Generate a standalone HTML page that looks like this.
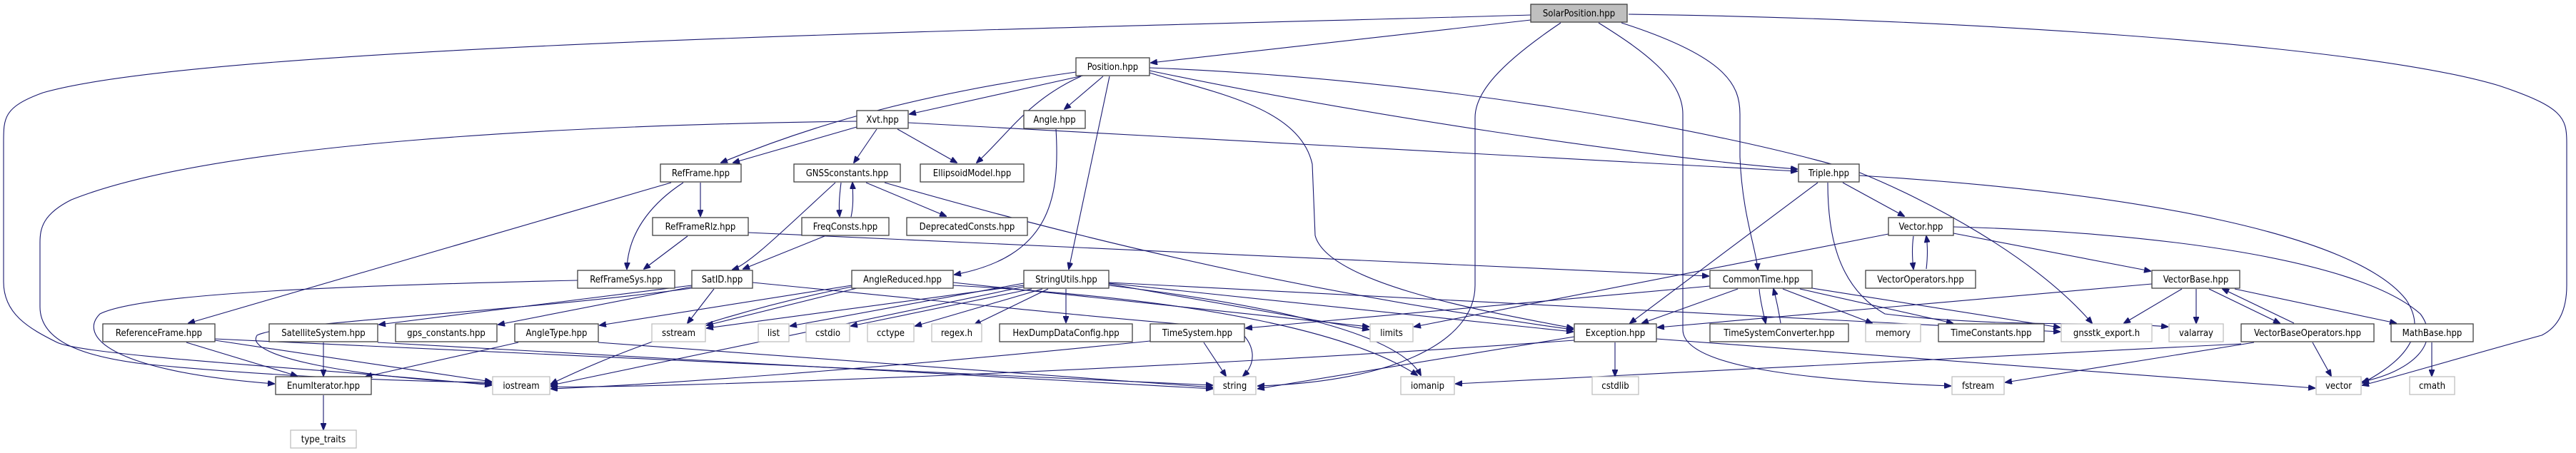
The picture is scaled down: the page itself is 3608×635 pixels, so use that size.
<!DOCTYPE html>
<html><head><meta charset="utf-8"><style>
html,body{margin:0;padding:0;background:#fff;}
svg{display:block;}
text{font-family:"DejaVu Sans Condensed","DejaVu Sans","Liberation Sans",sans-serif;font-size:13px;fill:#000;}
.n rect{fill:#fff;stroke:#404040;stroke-width:1.3;}
.g rect{fill:#fff;stroke:#bfbfbf;stroke-width:1.3;}
path{fill:none;stroke:#191970;stroke-width:1.1;}
</style></head><body>
<svg width="3608" height="635" viewBox="0 0 3608 635" xmlns="http://www.w3.org/2000/svg">
<defs><marker id="a" markerWidth="10" markerHeight="8" refX="9" refY="4" orient="auto" markerUnits="userSpaceOnUse"><polygon points="0,0 10,4 0,8" fill="#191970" stroke="#191970"/></marker></defs>
<g marker-end="url(#a)">
<path d="M2144,28 L1612,88"/>
<path d="M2144,21 C1500,40 300,60 60,130 C5,150 5,165 5,200 L5,395 C5,440 40,460 80,480 C120,500 500,520 688,540"/>
<path d="M2186,32 C2100,90 2066,130 2066,165 L2066,400 C2066,480 1950,535 1762,541"/>
<path d="M2239,32 C2300,70 2357,110 2357,160 L2357,462 C2357,510 2500,532 2732,541"/>
<path d="M2271,32 C2420,80 2437,120 2437,160 L2437,220 C2440,300 2460,350 2462,378"/>
<path d="M2281,20 C2700,25 3300,60 3500,120 C3590,150 3595,165 3595,200 L3595,400 C3595,440 3580,460 3560,470 C3450,500 3350,530 3309,540"/>
<path d="M1507,101 C1300,130 1150,170 1010,228"/>
<path d="M1517,106 L1274,160"/>
<path d="M1514,107 C1440,140 1410,190 1368,228"/>
<path d="M1545,107 L1491,153"/>
<path d="M1554,107 L1497,377"/>
<path d="M1610,99 C1900,160 2300,220 2517,237"/>
<path d="M1610,102 C1700,130 1820,150 1838,230 L1842,330 C1860,400 2100,440 2203,460"/>
<path d="M1610,95 C2000,110 2400,180 2600,240 C2700,280 2850,360 2930,453"/>
<path d="M1200,178 L1027,228"/>
<path d="M1228,181 L1196,228"/>
<path d="M1257,181 L1340,228"/>
<path d="M1272,172 L2517,240"/>
<path d="M1200,170 C800,175 300,200 100,280 C60,300 56,320 56,340 L56,430 C56,480 120,500 200,510 C400,530 600,535 688,536"/>
<path d="M1479,181 C1485,280 1470,360 1337,385"/>
<path d="M981,256 L981,303"/>
<path d="M957,256 C920,280 880,320 878,377"/>
<path d="M940,256 L264,453"/>
<path d="M963,331 L902,377"/>
<path d="M1048,326 L2393,387"/>
<path d="M1178,256 C1175,280 1175,290 1176,303"/>
<path d="M1192,304 C1195,290 1195,280 1194,256"/>
<path d="M1213,256 L1325,303"/>
<path d="M1170,256 C1100,320 1050,370 1026,378"/>
<path d="M1239,256 C1600,360 1900,420 2203,462"/>
<path d="M1155,331 L1041,377"/>
<path d="M809,393 C500,400 200,410 140,440 C110,470 150,520 384,538"/>
<path d="M261,480 L416,527"/>
<path d="M301,477 L688,535"/>
<path d="M301,475 L1698,540"/>
<path d="M1000,405 L963,453"/>
<path d="M969,400 L531,455"/>
<path d="M969,402 L698,455"/>
<path d="M969,404 C700,440 400,450 360,470 C340,500 500,530 688,538"/>
<path d="M1054,396 C1300,420 1580,450 1730,460 C1760,480 1760,510 1741,527"/>
<path d="M1193,400 L840,456"/>
<path d="M1200,404 L990,456"/>
<path d="M1193,402 C1000,440 850,500 772,538"/>
<path d="M1335,400 C1700,420 1900,470 1985,526"/>
<path d="M1335,396 L1917,458"/>
<path d="M1434,397 L1107,457"/>
<path d="M1445,405 L1192,457"/>
<path d="M1460,405 L1282,457"/>
<path d="M1468,405 L1365,455"/>
<path d="M1493,405 L1493,452"/>
<path d="M1434,400 L990,460"/>
<path d="M1553,397 L2203,465"/>
<path d="M1553,398 L1917,462"/>
<path d="M1553,400 C1800,430 1960,470 1990,526"/>
<path d="M1434,402 L772,540"/>
<path d="M1553,396 L2885,465"/>
<path d="M726,480 L512,528"/>
<path d="M838,480 L1698,543"/>
<path d="M453,480 L453,527"/>
<path d="M529,480 L1698,545"/>
<path d="M453,554 L453,602"/>
<path d="M2262,480 L2262,527"/>
<path d="M2205,472 L1762,545"/>
<path d="M2205,477 C1600,520 900,545 772,542"/>
<path d="M2320,475 L3242,544"/>
<path d="M1686,480 L1717,527"/>
<path d="M1611,478 C1200,520 900,540 772,545"/>
<path d="M2434,405 L2300,453"/>
<path d="M2464,405 C2465,420 2470,440 2473,453"/>
<path d="M2494,453 C2492,440 2488,420 2484,405"/>
<path d="M2497,405 L2622,453"/>
<path d="M2521,405 L2735,453"/>
<path d="M2538,404 L2885,459"/>
<path d="M2395,401 L1745,460"/>
<path d="M2645,328 L1981,458"/>
<path d="M2581,256 L2667,303"/>
<path d="M2546,256 L2283,453"/>
<path d="M2560,256 C2560,320 2570,400 2640,440 C2800,460 2950,450 3036,458"/>
<path d="M2604,246 C3000,270 3300,330 3370,420 C3410,480 3340,520 3309,537"/>
<path d="M2680,331 C2678,345 2678,360 2680,377"/>
<path d="M2698,377 C2700,360 2700,345 2698,331"/>
<path d="M2736,327 L3012,380"/>
<path d="M2736,318 C3000,325 3300,360 3390,440 C3420,480 3380,520 3309,535"/>
<path d="M3014,398 L2322,459"/>
<path d="M3056,405 L2975,453"/>
<path d="M3076,405 L3076,453"/>
<path d="M3094,405 L3193,453"/>
<path d="M3213,453 L3113,405"/>
<path d="M3130,405 L3356,453"/>
<path d="M3239,480 L3265,527"/>
<path d="M3157,480 L2809,536"/>
<path d="M3139,482 L2039,538"/>
<path d="M3406,480 L3406,527"/>
</g>
<g class="n">
<rect x="2144" y="6" width="135" height="25" style="fill:#bfbfbf"/><text x="2211.5" y="23" text-anchor="middle">SolarPosition.hpp</text>
<rect x="1507" y="81" width="103" height="25"/><text x="1558.5" y="98" text-anchor="middle">Position.hpp</text>
<rect x="1200" y="155" width="72" height="25"/><text x="1236" y="172" text-anchor="middle">Xvt.hpp</text>
<rect x="1434" y="155" width="86" height="25"/><text x="1477" y="172" text-anchor="middle">Angle.hpp</text>
<rect x="925" y="230" width="113" height="25"/><text x="981.5" y="247" text-anchor="middle">RefFrame.hpp</text>
<rect x="1112" y="230" width="149" height="25"/><text x="1186.5" y="247" text-anchor="middle">GNSSconstants.hpp</text>
<rect x="1289" y="230" width="145" height="25"/><text x="1361.5" y="247" text-anchor="middle">EllipsoidModel.hpp</text>
<rect x="2519" y="230" width="85" height="25"/><text x="2561.5" y="247" text-anchor="middle">Triple.hpp</text>
<rect x="914" y="305" width="134" height="25"/><text x="981" y="322" text-anchor="middle">RefFrameRlz.hpp</text>
<rect x="1123" y="305" width="122" height="25"/><text x="1184" y="322" text-anchor="middle">FreqConsts.hpp</text>
<rect x="1270" y="305" width="169" height="25"/><text x="1354.5" y="322" text-anchor="middle">DeprecatedConsts.hpp</text>
<rect x="2645" y="305" width="91" height="25"/><text x="2690.5" y="322" text-anchor="middle">Vector.hpp</text>
<rect x="809" y="379" width="136" height="25"/><text x="877" y="396" text-anchor="middle">RefFrameSys.hpp</text>
<rect x="969" y="379" width="85" height="25"/><text x="1011.5" y="396" text-anchor="middle">SatID.hpp</text>
<rect x="1193" y="379" width="142" height="25"/><text x="1264" y="396" text-anchor="middle">AngleReduced.hpp</text>
<rect x="1434" y="379" width="119" height="25"/><text x="1493.5" y="396" text-anchor="middle">StringUtils.hpp</text>
<rect x="2395" y="379" width="143" height="25"/><text x="2466.5" y="396" text-anchor="middle">CommonTime.hpp</text>
<rect x="2613" y="379" width="154" height="25"/><text x="2690" y="396" text-anchor="middle">VectorOperators.hpp</text>
<rect x="3014" y="379" width="123" height="25"/><text x="3075.5" y="396" text-anchor="middle">VectorBase.hpp</text>
<rect x="144" y="454" width="157" height="25"/><text x="222.5" y="471" text-anchor="middle">ReferenceFrame.hpp</text>
<rect x="377" y="454" width="152" height="25"/><text x="453" y="471" text-anchor="middle">SatelliteSystem.hpp</text>
<rect x="554" y="454" width="142" height="25"/><text x="625" y="471" text-anchor="middle">gps_constants.hpp</text>
<rect x="721" y="454" width="117" height="25"/><text x="779.5" y="471" text-anchor="middle">AngleType.hpp</text>
<rect x="1400" y="454" width="186" height="25"/><text x="1493" y="471" text-anchor="middle">HexDumpDataConfig.hpp</text>
<rect x="1611" y="454" width="132" height="25"/><text x="1677" y="471" text-anchor="middle">TimeSystem.hpp</text>
<rect x="2205" y="454" width="115" height="25"/><text x="2262.5" y="471" text-anchor="middle">Exception.hpp</text>
<rect x="2395" y="454" width="194" height="25"/><text x="2492" y="471" text-anchor="middle">TimeSystemConverter.hpp</text>
<rect x="2715" y="454" width="148" height="25"/><text x="2789" y="471" text-anchor="middle">TimeConstants.hpp</text>
<rect x="3139" y="454" width="186" height="25"/><text x="3232" y="471" text-anchor="middle">VectorBaseOperators.hpp</text>
<rect x="3349" y="454" width="115" height="25"/><text x="3406.5" y="471" text-anchor="middle">MathBase.hpp</text>
<rect x="386" y="528" width="134" height="25"/><text x="453" y="545" text-anchor="middle">EnumIterator.hpp</text>
</g>
<g class="g">
<rect x="913" y="454" width="75" height="25"/><text x="950.5" y="471" text-anchor="middle">sstream</text>
<rect x="1062" y="454" width="43" height="25"/><text x="1083.5" y="471" text-anchor="middle">list</text>
<rect x="1129" y="454" width="61" height="25"/><text x="1159.5" y="471" text-anchor="middle">cstdio</text>
<rect x="1215" y="454" width="65" height="25"/><text x="1247.5" y="471" text-anchor="middle">cctype</text>
<rect x="1305" y="454" width="70" height="25"/><text x="1340" y="471" text-anchor="middle">regex.h</text>
<rect x="1919" y="454" width="60" height="25"/><text x="1949" y="471" text-anchor="middle">limits</text>
<rect x="2613" y="454" width="77" height="25"/><text x="2651.5" y="471" text-anchor="middle">memory</text>
<rect x="2887" y="454" width="127" height="25"/><text x="2950.5" y="471" text-anchor="middle">gnsstk_export.h</text>
<rect x="3038" y="454" width="76" height="25"/><text x="3076" y="471" text-anchor="middle">valarray</text>
<rect x="690" y="528" width="80" height="25"/><text x="730" y="545" text-anchor="middle">iostream</text>
<rect x="1700" y="528" width="59" height="25"/><text x="1729.5" y="545" text-anchor="middle">string</text>
<rect x="1962" y="528" width="75" height="25"/><text x="1999.5" y="545" text-anchor="middle">iomanip</text>
<rect x="2230" y="528" width="65" height="25"/><text x="2262.5" y="545" text-anchor="middle">cstdlib</text>
<rect x="2734" y="528" width="73" height="25"/><text x="2770.5" y="545" text-anchor="middle">fstream</text>
<rect x="3244" y="528" width="63" height="25"/><text x="3275.5" y="545" text-anchor="middle">vector</text>
<rect x="3375" y="528" width="63" height="25"/><text x="3406.5" y="545" text-anchor="middle">cmath</text>
<rect x="407" y="603" width="92" height="25"/><text x="453" y="620" text-anchor="middle">type_traits</text>
</g>
</svg>
</body></html>
